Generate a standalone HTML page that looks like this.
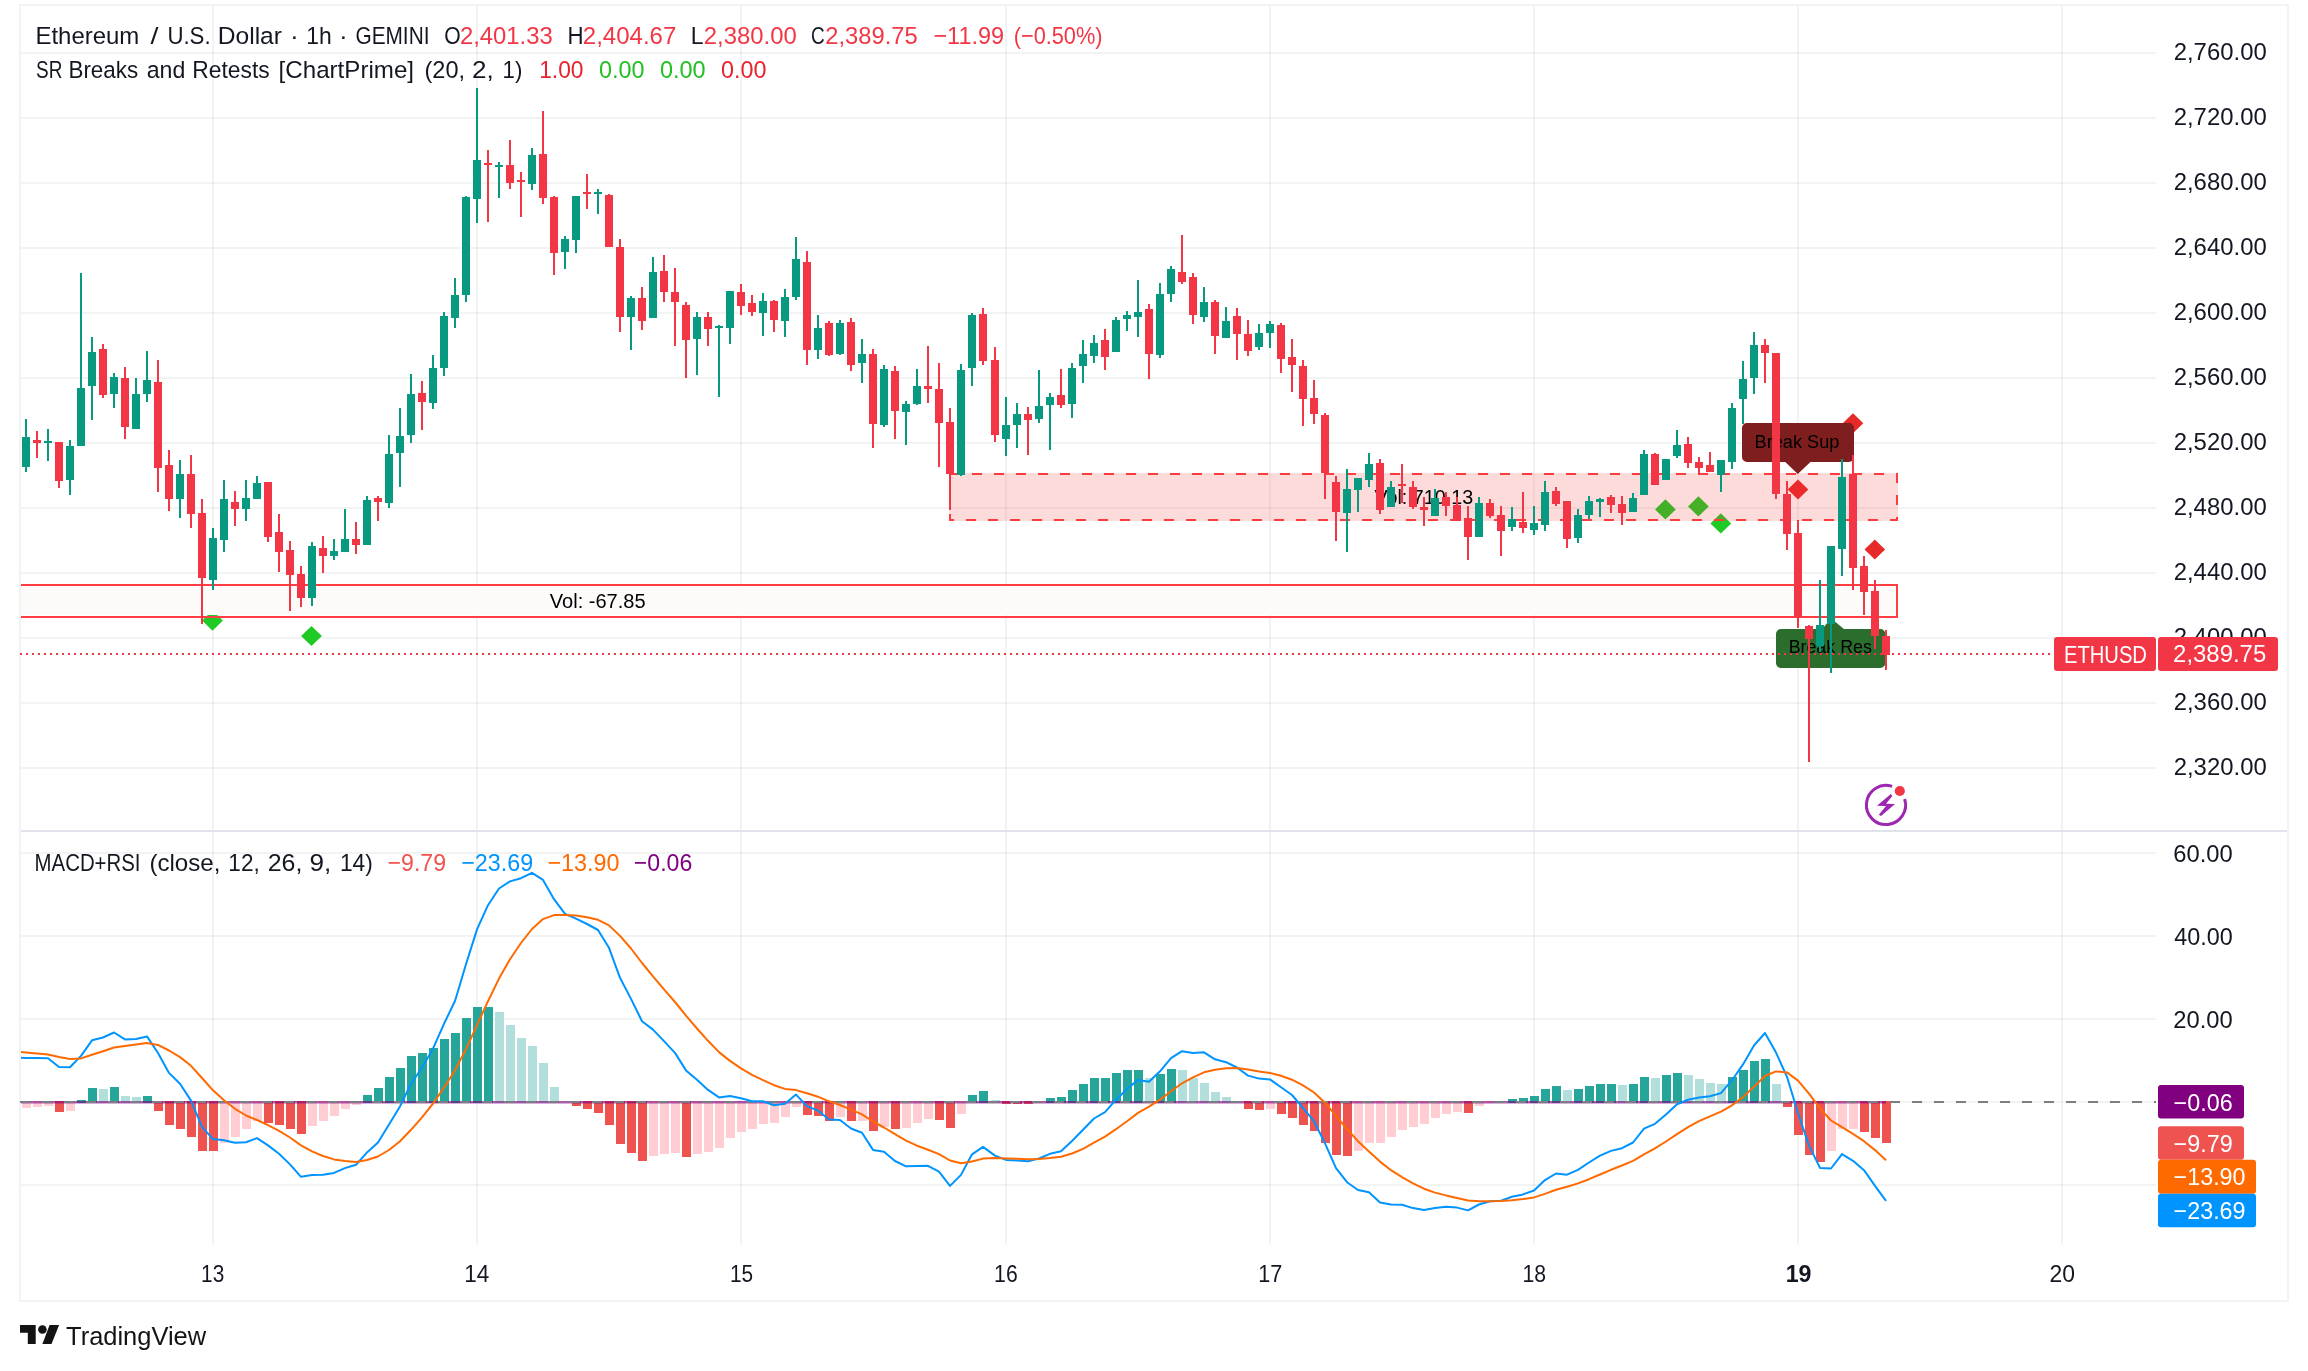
<!DOCTYPE html>
<html><head><meta charset="utf-8"><title>ETHUSD</title>
<style>html,body{margin:0;padding:0;background:#fff;width:2308px;height:1371px;overflow:hidden}text{font-family:"Liberation Sans", sans-serif;white-space:pre}</style>
</head><body>
<svg width="2308" height="1371" viewBox="0 0 2308 1371" style="position:absolute;left:0;top:0;will-change:opacity">
<g shape-rendering="crispEdges">
<rect x="21" y="52" width="2135" height="2" fill="#2a2e39" fill-opacity="0.06"/>
<rect x="21" y="117" width="2135" height="2" fill="#2a2e39" fill-opacity="0.06"/>
<rect x="21" y="182" width="2135" height="2" fill="#2a2e39" fill-opacity="0.06"/>
<rect x="21" y="247" width="2135" height="2" fill="#2a2e39" fill-opacity="0.06"/>
<rect x="21" y="312" width="2135" height="2" fill="#2a2e39" fill-opacity="0.06"/>
<rect x="21" y="377" width="2135" height="2" fill="#2a2e39" fill-opacity="0.06"/>
<rect x="21" y="442" width="2135" height="2" fill="#2a2e39" fill-opacity="0.06"/>
<rect x="21" y="507" width="2135" height="2" fill="#2a2e39" fill-opacity="0.06"/>
<rect x="21" y="572" width="2135" height="2" fill="#2a2e39" fill-opacity="0.06"/>
<rect x="21" y="637" width="2135" height="2" fill="#2a2e39" fill-opacity="0.06"/>
<rect x="21" y="702" width="2135" height="2" fill="#2a2e39" fill-opacity="0.06"/>
<rect x="21" y="767" width="2135" height="2" fill="#2a2e39" fill-opacity="0.06"/>
<rect x="21" y="852" width="2135" height="2" fill="#2a2e39" fill-opacity="0.06"/>
<rect x="21" y="935" width="2135" height="2" fill="#2a2e39" fill-opacity="0.06"/>
<rect x="21" y="1018" width="2135" height="2" fill="#2a2e39" fill-opacity="0.06"/>
<rect x="21" y="1101" width="2135" height="2" fill="#2a2e39" fill-opacity="0.06"/>
<rect x="21" y="1184" width="2135" height="2" fill="#2a2e39" fill-opacity="0.06"/>
<rect x="212" y="6" width="2" height="1239" fill="#2a2e39" fill-opacity="0.06"/>
<rect x="476" y="6" width="2" height="1239" fill="#2a2e39" fill-opacity="0.06"/>
<rect x="740" y="6" width="2" height="1239" fill="#2a2e39" fill-opacity="0.06"/>
<rect x="1005" y="6" width="2" height="1239" fill="#2a2e39" fill-opacity="0.06"/>
<rect x="1269" y="6" width="2" height="1239" fill="#2a2e39" fill-opacity="0.06"/>
<rect x="1533" y="6" width="2" height="1239" fill="#2a2e39" fill-opacity="0.06"/>
<rect x="1797" y="6" width="2" height="1239" fill="#2a2e39" fill-opacity="0.06"/>
<rect x="2061" y="6" width="2" height="1239" fill="#2a2e39" fill-opacity="0.06"/>
<rect x="19" y="4" width="2270" height="2" fill="#f2f3f3"/>
<rect x="19" y="4" width="2" height="1298" fill="#f2f3f3"/>
<rect x="2287" y="4" width="2" height="1298" fill="#f2f3f3"/>
<rect x="19" y="1300" width="2270" height="2" fill="#f2f3f3"/>
<rect x="21" y="830" width="2266" height="2" fill="#e0e3eb"/>
</g>
<path d="M212.5 610.5L222.9 620.6L212.5 630.7L202.1 620.6Z" fill="#20ca26"/>
<path d="M311.5 625.9L321.9 636L311.5 646.1L301.1 636Z" fill="#20ca26"/>
<path d="M1665.4 499.29999999999995L1675.8000000000002 509.4L1665.4 519.5L1655.0 509.4Z" fill="#20ca26"/>
<path d="M1698.4 496.29999999999995L1708.8000000000002 506.4L1698.4 516.5L1688.0 506.4Z" fill="#20ca26"/>
<path d="M1720.8 513.3L1731.2 523.4L1720.8 533.5L1710.3999999999999 523.4Z" fill="#20ca26"/>
<path d="M1853 413.3L1863.3 423.3L1853 433.3L1842.7 423.3Z" fill="#e82929"/>
<path d="M1798 479.5L1808.3 489.5L1798 499.5L1787.7 489.5Z" fill="#e82929"/>
<path d="M1874.8 539.4L1885.1 549.4L1874.8 559.4L1864.5 549.4Z" fill="#e82929"/>
<g shape-rendering="crispEdges">
<rect x="21" y="587" width="1874" height="28" fill="#fdfbfa"/>
<rect x="21" y="584" width="1877" height="2" fill="#ff3d42"/>
<rect x="21" y="616" width="1877" height="2" fill="#ff3d42"/>
<rect x="1896" y="584" width="2" height="34" fill="#ff3d42"/>
<rect x="949" y="473" width="949" height="48" fill="rgba(250,50,50,0.175)"/>
</g>
<rect x="950" y="474" width="947" height="46" fill="none" stroke="#fe3c3e" stroke-width="2" stroke-dasharray="10 12"/>
<path d="M1747 423H1849a5 5 0 0 1 5 5V457a5 5 0 0 1 -5 5H1810.4L1797.8 474L1785.3 462H1747a5 5 0 0 1 -5 -5V428a5 5 0 0 1 5 -5Z" fill="#7e1e1e"/>
<path d="M1781 629H1822.3L1831 618.3L1843.9 629H1880.3a5 5 0 0 1 5 5V663a5 5 0 0 1 -5 5H1781a5 5 0 0 1 -5 -5V634a5 5 0 0 1 5 -5Z" fill="#2b6d2d"/>
<text x="1754.62" y="447.60" font-size="18.6" fill="#000" font-weight="normal" textLength="84.71" lengthAdjust="spacingAndGlyphs">Break Sup</text>
<text x="1788.64" y="653.30" font-size="18.6" fill="#000" font-weight="normal" textLength="83.24" lengthAdjust="spacingAndGlyphs">Break Res</text>
<text x="549.80" y="607.80" font-size="20" fill="#000" font-weight="normal" textLength="95.82" lengthAdjust="spacingAndGlyphs">Vol: -67.85</text>
<text x="1374.40" y="503.50" font-size="20" fill="#000" font-weight="normal" textLength="98.72" lengthAdjust="spacingAndGlyphs">Vol: 710.13</text>
<g shape-rendering="crispEdges">
<rect x="25" y="419" width="2" height="53" fill="#089981"/><rect x="22" y="437" width="8" height="30" fill="#089981"/>
<rect x="36" y="431" width="2" height="27" fill="#f23645"/><rect x="33" y="440" width="8" height="3" fill="#f23645"/>
<rect x="47" y="429" width="2" height="32" fill="#089981"/><rect x="44" y="441" width="8" height="2" fill="#089981"/>
<rect x="58" y="442" width="2" height="46" fill="#f23645"/><rect x="55" y="442" width="8" height="39" fill="#f23645"/>
<rect x="69" y="440" width="2" height="55" fill="#089981"/><rect x="66" y="446" width="8" height="34" fill="#089981"/>
<rect x="80" y="273" width="2" height="173" fill="#089981"/><rect x="77" y="388" width="8" height="58" fill="#089981"/>
<rect x="91" y="337" width="2" height="83" fill="#089981"/><rect x="88" y="352" width="8" height="34" fill="#089981"/>
<rect x="102" y="344" width="2" height="54" fill="#f23645"/><rect x="99" y="349" width="8" height="46" fill="#f23645"/>
<rect x="113" y="373" width="2" height="35" fill="#089981"/><rect x="110" y="377" width="8" height="17" fill="#089981"/>
<rect x="124" y="367" width="2" height="72" fill="#f23645"/><rect x="121" y="378" width="8" height="49" fill="#f23645"/>
<rect x="135" y="378" width="2" height="51" fill="#089981"/><rect x="132" y="394" width="8" height="35" fill="#089981"/>
<rect x="146" y="351" width="2" height="51" fill="#089981"/><rect x="143" y="380" width="8" height="14" fill="#089981"/>
<rect x="157" y="360" width="2" height="132" fill="#f23645"/><rect x="154" y="382" width="8" height="86" fill="#f23645"/>
<rect x="168" y="450" width="2" height="61" fill="#f23645"/><rect x="165" y="465" width="8" height="34" fill="#f23645"/>
<rect x="179" y="460" width="2" height="58" fill="#089981"/><rect x="176" y="474" width="8" height="25" fill="#089981"/>
<rect x="190" y="455" width="2" height="73" fill="#f23645"/><rect x="187" y="474" width="8" height="40" fill="#f23645"/>
<rect x="201" y="499" width="2" height="125" fill="#f23645"/><rect x="198" y="513" width="8" height="65" fill="#f23645"/>
<rect x="212" y="528" width="2" height="62" fill="#089981"/><rect x="209" y="538" width="8" height="42" fill="#089981"/>
<rect x="223" y="480" width="2" height="72" fill="#089981"/><rect x="220" y="499" width="8" height="41" fill="#089981"/>
<rect x="234" y="491" width="2" height="35" fill="#f23645"/><rect x="231" y="502" width="8" height="7" fill="#f23645"/>
<rect x="245" y="480" width="2" height="41" fill="#089981"/><rect x="242" y="498" width="8" height="11" fill="#089981"/>
<rect x="256" y="476" width="2" height="23" fill="#089981"/><rect x="253" y="483" width="8" height="16" fill="#089981"/>
<rect x="267" y="482" width="2" height="60" fill="#f23645"/><rect x="264" y="482" width="8" height="55" fill="#f23645"/>
<rect x="278" y="514" width="2" height="58" fill="#f23645"/><rect x="275" y="532" width="8" height="20" fill="#f23645"/>
<rect x="289" y="541" width="2" height="70" fill="#f23645"/><rect x="286" y="550" width="8" height="25" fill="#f23645"/>
<rect x="300" y="566" width="2" height="41" fill="#f23645"/><rect x="297" y="574" width="8" height="24" fill="#f23645"/>
<rect x="311" y="542" width="2" height="64" fill="#089981"/><rect x="308" y="546" width="8" height="52" fill="#089981"/>
<rect x="322" y="536" width="2" height="37" fill="#f23645"/><rect x="319" y="548" width="8" height="8" fill="#f23645"/>
<rect x="333" y="539" width="2" height="21" fill="#089981"/><rect x="330" y="551" width="8" height="5" fill="#089981"/>
<rect x="344" y="509" width="2" height="43" fill="#089981"/><rect x="341" y="539" width="8" height="13" fill="#089981"/>
<rect x="355" y="522" width="2" height="32" fill="#f23645"/><rect x="352" y="539" width="8" height="6" fill="#f23645"/>
<rect x="366" y="496" width="2" height="49" fill="#089981"/><rect x="363" y="500" width="8" height="45" fill="#089981"/>
<rect x="377" y="496" width="2" height="25" fill="#f23645"/><rect x="374" y="498" width="8" height="4" fill="#f23645"/>
<rect x="388" y="435" width="2" height="73" fill="#089981"/><rect x="385" y="454" width="8" height="49" fill="#089981"/>
<rect x="399" y="408" width="2" height="79" fill="#089981"/><rect x="396" y="436" width="8" height="17" fill="#089981"/>
<rect x="410" y="374" width="2" height="69" fill="#089981"/><rect x="407" y="394" width="8" height="41" fill="#089981"/>
<rect x="421" y="381" width="2" height="49" fill="#f23645"/><rect x="418" y="393" width="8" height="9" fill="#f23645"/>
<rect x="432" y="355" width="2" height="54" fill="#089981"/><rect x="429" y="368" width="8" height="35" fill="#089981"/>
<rect x="443" y="312" width="2" height="64" fill="#089981"/><rect x="440" y="316" width="8" height="52" fill="#089981"/>
<rect x="454" y="278" width="2" height="50" fill="#089981"/><rect x="451" y="295" width="8" height="23" fill="#089981"/>
<rect x="465" y="196" width="2" height="106" fill="#089981"/><rect x="462" y="197" width="8" height="98" fill="#089981"/>
<rect x="476" y="88" width="2" height="135" fill="#089981"/><rect x="473" y="160" width="8" height="39" fill="#089981"/>
<rect x="487" y="150" width="2" height="72" fill="#f23645"/><rect x="484" y="163" width="8" height="2" fill="#f23645"/>
<rect x="498" y="162" width="2" height="36" fill="#089981"/><rect x="495" y="165" width="8" height="2" fill="#089981"/>
<rect x="509" y="140" width="2" height="49" fill="#f23645"/><rect x="506" y="165" width="8" height="18" fill="#f23645"/>
<rect x="520" y="172" width="2" height="45" fill="#f23645"/><rect x="517" y="180" width="8" height="2" fill="#f23645"/>
<rect x="531" y="148" width="2" height="42" fill="#089981"/><rect x="528" y="155" width="8" height="29" fill="#089981"/>
<rect x="542" y="111" width="2" height="93" fill="#f23645"/><rect x="539" y="154" width="8" height="44" fill="#f23645"/>
<rect x="553" y="196" width="2" height="79" fill="#f23645"/><rect x="550" y="197" width="8" height="56" fill="#f23645"/>
<rect x="564" y="236" width="2" height="33" fill="#089981"/><rect x="561" y="239" width="8" height="13" fill="#089981"/>
<rect x="575" y="196" width="2" height="57" fill="#089981"/><rect x="572" y="196" width="8" height="44" fill="#089981"/>
<rect x="586" y="174" width="2" height="35" fill="#f23645"/><rect x="583" y="192" width="8" height="2" fill="#f23645"/>
<rect x="597" y="189" width="2" height="25" fill="#089981"/><rect x="594" y="192" width="8" height="2" fill="#089981"/>
<rect x="608" y="194" width="2" height="53" fill="#f23645"/><rect x="605" y="195" width="8" height="52" fill="#f23645"/>
<rect x="619" y="239" width="2" height="93" fill="#f23645"/><rect x="616" y="247" width="8" height="70" fill="#f23645"/>
<rect x="630" y="296" width="2" height="54" fill="#089981"/><rect x="627" y="298" width="8" height="19" fill="#089981"/>
<rect x="641" y="287" width="2" height="43" fill="#f23645"/><rect x="638" y="298" width="8" height="23" fill="#f23645"/>
<rect x="652" y="257" width="2" height="61" fill="#089981"/><rect x="649" y="272" width="8" height="46" fill="#089981"/>
<rect x="663" y="255" width="2" height="47" fill="#f23645"/><rect x="660" y="271" width="8" height="21" fill="#f23645"/>
<rect x="674" y="268" width="2" height="78" fill="#f23645"/><rect x="671" y="292" width="8" height="10" fill="#f23645"/>
<rect x="685" y="302" width="2" height="76" fill="#f23645"/><rect x="682" y="305" width="8" height="35" fill="#f23645"/>
<rect x="696" y="312" width="2" height="63" fill="#089981"/><rect x="693" y="317" width="8" height="22" fill="#089981"/>
<rect x="707" y="312" width="2" height="34" fill="#f23645"/><rect x="704" y="317" width="8" height="12" fill="#f23645"/>
<rect x="718" y="325" width="2" height="72" fill="#089981"/><rect x="715" y="326" width="8" height="2" fill="#089981"/>
<rect x="729" y="291" width="2" height="53" fill="#089981"/><rect x="726" y="291" width="8" height="37" fill="#089981"/>
<rect x="740" y="284" width="2" height="31" fill="#f23645"/><rect x="737" y="292" width="8" height="14" fill="#f23645"/>
<rect x="751" y="295" width="2" height="21" fill="#f23645"/><rect x="748" y="303" width="8" height="9" fill="#f23645"/>
<rect x="762" y="293" width="2" height="43" fill="#089981"/><rect x="759" y="301" width="8" height="12" fill="#089981"/>
<rect x="773" y="300" width="2" height="32" fill="#f23645"/><rect x="770" y="301" width="8" height="19" fill="#f23645"/>
<rect x="784" y="289" width="2" height="48" fill="#089981"/><rect x="781" y="297" width="8" height="24" fill="#089981"/>
<rect x="795" y="237" width="2" height="63" fill="#089981"/><rect x="792" y="259" width="8" height="38" fill="#089981"/>
<rect x="806" y="251" width="2" height="114" fill="#f23645"/><rect x="803" y="262" width="8" height="88" fill="#f23645"/>
<rect x="817" y="315" width="2" height="44" fill="#089981"/><rect x="814" y="328" width="8" height="22" fill="#089981"/>
<rect x="828" y="321" width="2" height="35" fill="#f23645"/><rect x="825" y="323" width="8" height="32" fill="#f23645"/>
<rect x="839" y="320" width="2" height="35" fill="#089981"/><rect x="836" y="323" width="8" height="31" fill="#089981"/>
<rect x="850" y="318" width="2" height="53" fill="#f23645"/><rect x="847" y="322" width="8" height="43" fill="#f23645"/>
<rect x="861" y="339" width="2" height="44" fill="#089981"/><rect x="858" y="354" width="8" height="9" fill="#089981"/>
<rect x="872" y="349" width="2" height="99" fill="#f23645"/><rect x="869" y="354" width="8" height="70" fill="#f23645"/>
<rect x="883" y="365" width="2" height="62" fill="#089981"/><rect x="880" y="369" width="8" height="56" fill="#089981"/>
<rect x="894" y="366" width="2" height="73" fill="#f23645"/><rect x="891" y="371" width="8" height="40" fill="#f23645"/>
<rect x="905" y="401" width="2" height="44" fill="#089981"/><rect x="902" y="404" width="8" height="8" fill="#089981"/>
<rect x="916" y="369" width="2" height="36" fill="#089981"/><rect x="913" y="386" width="8" height="18" fill="#089981"/>
<rect x="927" y="346" width="2" height="57" fill="#f23645"/><rect x="924" y="386" width="8" height="3" fill="#f23645"/>
<rect x="938" y="363" width="2" height="104" fill="#f23645"/><rect x="935" y="389" width="8" height="34" fill="#f23645"/>
<rect x="949" y="408" width="2" height="102" fill="#f23645"/><rect x="946" y="422" width="8" height="52" fill="#f23645"/>
<rect x="960" y="364" width="2" height="112" fill="#089981"/><rect x="957" y="370" width="8" height="105" fill="#089981"/>
<rect x="971" y="313" width="2" height="73" fill="#089981"/><rect x="968" y="315" width="8" height="53" fill="#089981"/>
<rect x="982" y="308" width="2" height="57" fill="#f23645"/><rect x="979" y="314" width="8" height="47" fill="#f23645"/>
<rect x="994" y="347" width="2" height="95" fill="#f23645"/><rect x="991" y="360" width="8" height="75" fill="#f23645"/>
<rect x="1005" y="397" width="2" height="59" fill="#089981"/><rect x="1002" y="425" width="8" height="14" fill="#089981"/>
<rect x="1016" y="403" width="2" height="45" fill="#089981"/><rect x="1013" y="414" width="8" height="11" fill="#089981"/>
<rect x="1027" y="407" width="2" height="48" fill="#f23645"/><rect x="1024" y="414" width="8" height="6" fill="#f23645"/>
<rect x="1038" y="370" width="2" height="53" fill="#089981"/><rect x="1035" y="406" width="8" height="13" fill="#089981"/>
<rect x="1049" y="393" width="2" height="57" fill="#089981"/><rect x="1046" y="397" width="8" height="8" fill="#089981"/>
<rect x="1060" y="369" width="2" height="39" fill="#f23645"/><rect x="1057" y="395" width="8" height="10" fill="#f23645"/>
<rect x="1071" y="363" width="2" height="55" fill="#089981"/><rect x="1068" y="368" width="8" height="36" fill="#089981"/>
<rect x="1082" y="340" width="2" height="43" fill="#089981"/><rect x="1079" y="354" width="8" height="12" fill="#089981"/>
<rect x="1093" y="335" width="2" height="28" fill="#089981"/><rect x="1090" y="343" width="8" height="13" fill="#089981"/>
<rect x="1104" y="329" width="2" height="41" fill="#f23645"/><rect x="1101" y="340" width="8" height="17" fill="#f23645"/>
<rect x="1115" y="317" width="2" height="35" fill="#089981"/><rect x="1112" y="320" width="8" height="32" fill="#089981"/>
<rect x="1126" y="311" width="2" height="20" fill="#089981"/><rect x="1123" y="315" width="8" height="4" fill="#089981"/>
<rect x="1137" y="280" width="2" height="57" fill="#089981"/><rect x="1134" y="312" width="8" height="5" fill="#089981"/>
<rect x="1148" y="304" width="2" height="75" fill="#f23645"/><rect x="1145" y="309" width="8" height="45" fill="#f23645"/>
<rect x="1159" y="283" width="2" height="75" fill="#089981"/><rect x="1156" y="294" width="8" height="61" fill="#089981"/>
<rect x="1170" y="266" width="2" height="36" fill="#089981"/><rect x="1167" y="269" width="8" height="25" fill="#089981"/>
<rect x="1181" y="235" width="2" height="49" fill="#f23645"/><rect x="1178" y="272" width="8" height="10" fill="#f23645"/>
<rect x="1192" y="273" width="2" height="51" fill="#f23645"/><rect x="1189" y="277" width="8" height="38" fill="#f23645"/>
<rect x="1203" y="287" width="2" height="35" fill="#089981"/><rect x="1200" y="302" width="8" height="15" fill="#089981"/>
<rect x="1214" y="300" width="2" height="54" fill="#f23645"/><rect x="1211" y="302" width="8" height="34" fill="#f23645"/>
<rect x="1225" y="307" width="2" height="31" fill="#089981"/><rect x="1222" y="321" width="8" height="17" fill="#089981"/>
<rect x="1236" y="308" width="2" height="52" fill="#f23645"/><rect x="1233" y="316" width="8" height="18" fill="#f23645"/>
<rect x="1247" y="320" width="2" height="36" fill="#f23645"/><rect x="1244" y="334" width="8" height="17" fill="#f23645"/>
<rect x="1258" y="324" width="2" height="26" fill="#089981"/><rect x="1255" y="333" width="8" height="14" fill="#089981"/>
<rect x="1269" y="321" width="2" height="27" fill="#089981"/><rect x="1266" y="324" width="8" height="9" fill="#089981"/>
<rect x="1280" y="323" width="2" height="50" fill="#f23645"/><rect x="1277" y="325" width="8" height="34" fill="#f23645"/>
<rect x="1291" y="339" width="2" height="53" fill="#f23645"/><rect x="1288" y="357" width="8" height="8" fill="#f23645"/>
<rect x="1302" y="360" width="2" height="66" fill="#f23645"/><rect x="1299" y="366" width="8" height="33" fill="#f23645"/>
<rect x="1313" y="380" width="2" height="44" fill="#f23645"/><rect x="1310" y="398" width="8" height="16" fill="#f23645"/>
<rect x="1324" y="413" width="2" height="86" fill="#f23645"/><rect x="1321" y="415" width="8" height="58" fill="#f23645"/>
<rect x="1335" y="476" width="2" height="65" fill="#f23645"/><rect x="1332" y="482" width="8" height="30" fill="#f23645"/>
<rect x="1346" y="469" width="2" height="83" fill="#089981"/><rect x="1343" y="489" width="8" height="24" fill="#089981"/>
<rect x="1357" y="478" width="2" height="34" fill="#089981"/><rect x="1354" y="478" width="8" height="12" fill="#089981"/>
<rect x="1368" y="453" width="2" height="34" fill="#089981"/><rect x="1365" y="464" width="8" height="16" fill="#089981"/>
<rect x="1379" y="459" width="2" height="55" fill="#f23645"/><rect x="1376" y="463" width="8" height="47" fill="#f23645"/>
<rect x="1390" y="481" width="2" height="26" fill="#089981"/><rect x="1387" y="487" width="8" height="20" fill="#089981"/>
<rect x="1401" y="464" width="2" height="39" fill="#f23645"/><rect x="1398" y="484" width="8" height="2" fill="#f23645"/>
<rect x="1412" y="481" width="2" height="28" fill="#f23645"/><rect x="1409" y="487" width="8" height="20" fill="#f23645"/>
<rect x="1423" y="497" width="2" height="29" fill="#f23645"/><rect x="1420" y="507" width="8" height="3" fill="#f23645"/>
<rect x="1434" y="489" width="2" height="27" fill="#089981"/><rect x="1431" y="498" width="8" height="18" fill="#089981"/>
<rect x="1445" y="492" width="2" height="24" fill="#f23645"/><rect x="1442" y="497" width="8" height="9" fill="#f23645"/>
<rect x="1456" y="497" width="2" height="24" fill="#f23645"/><rect x="1453" y="505" width="8" height="16" fill="#f23645"/>
<rect x="1467" y="506" width="2" height="54" fill="#f23645"/><rect x="1464" y="518" width="8" height="19" fill="#f23645"/>
<rect x="1478" y="497" width="2" height="40" fill="#089981"/><rect x="1475" y="503" width="8" height="34" fill="#089981"/>
<rect x="1489" y="499" width="2" height="19" fill="#f23645"/><rect x="1486" y="503" width="8" height="13" fill="#f23645"/>
<rect x="1500" y="506" width="2" height="50" fill="#f23645"/><rect x="1497" y="515" width="8" height="16" fill="#f23645"/>
<rect x="1511" y="507" width="2" height="24" fill="#089981"/><rect x="1508" y="519" width="8" height="8" fill="#089981"/>
<rect x="1522" y="492" width="2" height="41" fill="#f23645"/><rect x="1519" y="522" width="8" height="6" fill="#f23645"/>
<rect x="1533" y="506" width="2" height="29" fill="#089981"/><rect x="1530" y="523" width="8" height="7" fill="#089981"/>
<rect x="1544" y="481" width="2" height="50" fill="#089981"/><rect x="1541" y="492" width="8" height="33" fill="#089981"/>
<rect x="1555" y="487" width="2" height="19" fill="#f23645"/><rect x="1552" y="491" width="8" height="13" fill="#f23645"/>
<rect x="1566" y="501" width="2" height="47" fill="#f23645"/><rect x="1563" y="501" width="8" height="38" fill="#f23645"/>
<rect x="1577" y="509" width="2" height="34" fill="#089981"/><rect x="1574" y="515" width="8" height="23" fill="#089981"/>
<rect x="1588" y="496" width="2" height="23" fill="#089981"/><rect x="1585" y="501" width="8" height="14" fill="#089981"/>
<rect x="1599" y="498" width="2" height="19" fill="#089981"/><rect x="1596" y="499" width="8" height="3" fill="#089981"/>
<rect x="1610" y="495" width="2" height="18" fill="#f23645"/><rect x="1607" y="497" width="8" height="8" fill="#f23645"/>
<rect x="1621" y="496" width="2" height="29" fill="#f23645"/><rect x="1618" y="504" width="8" height="9" fill="#f23645"/>
<rect x="1632" y="493" width="2" height="19" fill="#089981"/><rect x="1629" y="498" width="8" height="14" fill="#089981"/>
<rect x="1643" y="450" width="2" height="45" fill="#089981"/><rect x="1640" y="454" width="8" height="41" fill="#089981"/>
<rect x="1654" y="453" width="2" height="32" fill="#f23645"/><rect x="1651" y="454" width="8" height="31" fill="#f23645"/>
<rect x="1665" y="459" width="2" height="21" fill="#089981"/><rect x="1662" y="459" width="8" height="21" fill="#089981"/>
<rect x="1676" y="430" width="2" height="28" fill="#089981"/><rect x="1673" y="445" width="8" height="11" fill="#089981"/>
<rect x="1687" y="437" width="2" height="31" fill="#f23645"/><rect x="1684" y="444" width="8" height="19" fill="#f23645"/>
<rect x="1698" y="457" width="2" height="17" fill="#f23645"/><rect x="1695" y="462" width="8" height="6" fill="#f23645"/>
<rect x="1709" y="452" width="2" height="20" fill="#f23645"/><rect x="1706" y="465" width="8" height="7" fill="#f23645"/>
<rect x="1720" y="460" width="2" height="32" fill="#089981"/><rect x="1717" y="460" width="8" height="15" fill="#089981"/>
<rect x="1731" y="403" width="2" height="66" fill="#089981"/><rect x="1728" y="408" width="8" height="54" fill="#089981"/>
<rect x="1742" y="361" width="2" height="63" fill="#089981"/><rect x="1739" y="379" width="8" height="20" fill="#089981"/>
<rect x="1753" y="332" width="2" height="62" fill="#089981"/><rect x="1750" y="345" width="8" height="33" fill="#089981"/>
<rect x="1764" y="339" width="2" height="44" fill="#f23645"/><rect x="1761" y="345" width="8" height="8" fill="#f23645"/>
<rect x="1775" y="353" width="2" height="146" fill="#f23645"/><rect x="1772" y="353" width="8" height="141" fill="#f23645"/>
<rect x="1786" y="481" width="2" height="69" fill="#f23645"/><rect x="1783" y="494" width="8" height="40" fill="#f23645"/>
<rect x="1797" y="520" width="2" height="108" fill="#f23645"/><rect x="1794" y="533" width="8" height="84" fill="#f23645"/>
<rect x="1808" y="625" width="2" height="137" fill="#f23645"/><rect x="1805" y="626" width="8" height="13" fill="#f23645"/>
<rect x="1819" y="580" width="2" height="72" fill="#089981"/><rect x="1816" y="625" width="8" height="21" fill="#089981"/>
<rect x="1830" y="546" width="2" height="127" fill="#089981"/><rect x="1827" y="546" width="8" height="78" fill="#089981"/>
<rect x="1841" y="459" width="2" height="117" fill="#089981"/><rect x="1838" y="477" width="8" height="72" fill="#089981"/>
<rect x="1852" y="455" width="2" height="135" fill="#f23645"/><rect x="1849" y="474" width="8" height="94" fill="#f23645"/>
<rect x="1863" y="556" width="2" height="59" fill="#f23645"/><rect x="1860" y="566" width="8" height="26" fill="#f23645"/>
<rect x="1874" y="580" width="2" height="69" fill="#f23645"/><rect x="1871" y="591" width="8" height="45" fill="#f23645"/>
<rect x="1885" y="630" width="2" height="40" fill="#f23645"/><rect x="1882" y="636" width="8" height="19" fill="#f23645"/>
</g>
<line x1="20" y1="654" x2="2050" y2="654" stroke="#f23645" stroke-width="2" stroke-dasharray="2 4" shape-rendering="crispEdges"/>
<g shape-rendering="crispEdges">
<rect x="22" y="1101" width="9" height="7" fill="#ffcdd2"/>
<rect x="33" y="1101" width="9" height="6" fill="#ffcdd2"/>
<rect x="44" y="1101" width="9" height="5" fill="#ffcdd2"/>
<rect x="55" y="1101" width="9" height="11" fill="#ef5350"/>
<rect x="66" y="1101" width="9" height="10" fill="#ffcdd2"/>
<rect x="77" y="1100" width="9" height="3" fill="#26a69a"/>
<rect x="88" y="1088" width="9" height="15" fill="#26a69a"/>
<rect x="99" y="1089" width="9" height="14" fill="#b2dfdb"/>
<rect x="110" y="1087" width="9" height="16" fill="#26a69a"/>
<rect x="121" y="1096" width="9" height="7" fill="#b2dfdb"/>
<rect x="132" y="1097" width="9" height="6" fill="#b2dfdb"/>
<rect x="143" y="1096" width="9" height="7" fill="#26a69a"/>
<rect x="154" y="1101" width="9" height="10" fill="#ef5350"/>
<rect x="165" y="1101" width="9" height="24" fill="#ef5350"/>
<rect x="176" y="1101" width="9" height="28" fill="#ef5350"/>
<rect x="187" y="1101" width="9" height="36" fill="#ef5350"/>
<rect x="198" y="1101" width="9" height="50" fill="#ef5350"/>
<rect x="209" y="1101" width="9" height="50" fill="#ef5350"/>
<rect x="220" y="1101" width="9" height="42" fill="#ffcdd2"/>
<rect x="231" y="1101" width="9" height="36" fill="#ffcdd2"/>
<rect x="242" y="1101" width="9" height="28" fill="#ffcdd2"/>
<rect x="253" y="1101" width="9" height="20" fill="#ffcdd2"/>
<rect x="264" y="1101" width="9" height="22" fill="#ef5350"/>
<rect x="275" y="1101" width="9" height="24" fill="#ef5350"/>
<rect x="286" y="1101" width="9" height="28" fill="#ef5350"/>
<rect x="297" y="1101" width="9" height="33" fill="#ef5350"/>
<rect x="308" y="1101" width="9" height="25" fill="#ffcdd2"/>
<rect x="319" y="1101" width="9" height="20" fill="#ffcdd2"/>
<rect x="330" y="1101" width="9" height="15" fill="#ffcdd2"/>
<rect x="341" y="1101" width="9" height="8" fill="#ffcdd2"/>
<rect x="352" y="1101" width="9" height="4" fill="#ffcdd2"/>
<rect x="363" y="1095" width="9" height="8" fill="#26a69a"/>
<rect x="374" y="1088" width="9" height="15" fill="#26a69a"/>
<rect x="385" y="1077" width="9" height="26" fill="#26a69a"/>
<rect x="396" y="1068" width="9" height="35" fill="#26a69a"/>
<rect x="407" y="1056" width="9" height="47" fill="#26a69a"/>
<rect x="418" y="1053" width="9" height="50" fill="#26a69a"/>
<rect x="429" y="1048" width="9" height="55" fill="#26a69a"/>
<rect x="440" y="1039" width="9" height="64" fill="#26a69a"/>
<rect x="451" y="1033" width="9" height="70" fill="#26a69a"/>
<rect x="462" y="1018" width="9" height="85" fill="#26a69a"/>
<rect x="473" y="1007" width="9" height="96" fill="#26a69a"/>
<rect x="484" y="1007" width="9" height="96" fill="#26a69a"/>
<rect x="495" y="1012" width="9" height="91" fill="#b2dfdb"/>
<rect x="506" y="1025" width="9" height="78" fill="#b2dfdb"/>
<rect x="517" y="1038" width="9" height="65" fill="#b2dfdb"/>
<rect x="528" y="1046" width="9" height="57" fill="#b2dfdb"/>
<rect x="539" y="1063" width="9" height="40" fill="#b2dfdb"/>
<rect x="550" y="1087" width="9" height="16" fill="#b2dfdb"/>
<rect x="572" y="1101" width="9" height="5" fill="#ef5350"/>
<rect x="583" y="1101" width="9" height="8" fill="#ef5350"/>
<rect x="594" y="1101" width="9" height="12" fill="#ef5350"/>
<rect x="605" y="1101" width="9" height="24" fill="#ef5350"/>
<rect x="616" y="1101" width="9" height="43" fill="#ef5350"/>
<rect x="627" y="1101" width="9" height="52" fill="#ef5350"/>
<rect x="638" y="1101" width="9" height="60" fill="#ef5350"/>
<rect x="649" y="1101" width="9" height="55" fill="#ffcdd2"/>
<rect x="660" y="1101" width="9" height="53" fill="#ffcdd2"/>
<rect x="671" y="1101" width="9" height="52" fill="#ffcdd2"/>
<rect x="682" y="1101" width="9" height="56" fill="#ef5350"/>
<rect x="693" y="1101" width="9" height="53" fill="#ffcdd2"/>
<rect x="704" y="1101" width="9" height="51" fill="#ffcdd2"/>
<rect x="715" y="1101" width="9" height="47" fill="#ffcdd2"/>
<rect x="726" y="1101" width="9" height="37" fill="#ffcdd2"/>
<rect x="737" y="1101" width="9" height="31" fill="#ffcdd2"/>
<rect x="748" y="1101" width="9" height="28" fill="#ffcdd2"/>
<rect x="759" y="1101" width="9" height="23" fill="#ffcdd2"/>
<rect x="770" y="1101" width="9" height="22" fill="#ffcdd2"/>
<rect x="781" y="1101" width="9" height="16" fill="#ffcdd2"/>
<rect x="792" y="1101" width="9" height="6" fill="#ffcdd2"/>
<rect x="803" y="1101" width="9" height="14" fill="#ef5350"/>
<rect x="814" y="1101" width="9" height="15" fill="#ef5350"/>
<rect x="825" y="1101" width="9" height="20" fill="#ef5350"/>
<rect x="836" y="1101" width="9" height="16" fill="#ffcdd2"/>
<rect x="847" y="1101" width="9" height="20" fill="#ef5350"/>
<rect x="858" y="1101" width="9" height="20" fill="#ffcdd2"/>
<rect x="869" y="1101" width="9" height="30" fill="#ef5350"/>
<rect x="880" y="1101" width="9" height="26" fill="#ffcdd2"/>
<rect x="891" y="1101" width="9" height="28" fill="#ef5350"/>
<rect x="902" y="1101" width="9" height="27" fill="#ffcdd2"/>
<rect x="913" y="1101" width="9" height="22" fill="#ffcdd2"/>
<rect x="924" y="1101" width="9" height="18" fill="#ffcdd2"/>
<rect x="935" y="1101" width="9" height="19" fill="#ef5350"/>
<rect x="946" y="1101" width="9" height="27" fill="#ef5350"/>
<rect x="957" y="1101" width="9" height="13" fill="#ffcdd2"/>
<rect x="968" y="1095" width="9" height="8" fill="#26a69a"/>
<rect x="979" y="1091" width="9" height="12" fill="#26a69a"/>
<rect x="991" y="1100" width="9" height="3" fill="#b2dfdb"/>
<rect x="1002" y="1101" width="9" height="3" fill="#ef5350"/>
<rect x="1013" y="1101" width="9" height="3" fill="#ef5350"/>
<rect x="1024" y="1101" width="9" height="3" fill="#ef5350"/>
<rect x="1046" y="1098" width="9" height="5" fill="#26a69a"/>
<rect x="1057" y="1097" width="9" height="6" fill="#26a69a"/>
<rect x="1068" y="1090" width="9" height="13" fill="#26a69a"/>
<rect x="1079" y="1084" width="9" height="19" fill="#26a69a"/>
<rect x="1090" y="1078" width="9" height="25" fill="#26a69a"/>
<rect x="1101" y="1078" width="9" height="25" fill="#26a69a"/>
<rect x="1112" y="1073" width="9" height="30" fill="#26a69a"/>
<rect x="1123" y="1070" width="9" height="33" fill="#26a69a"/>
<rect x="1134" y="1070" width="9" height="33" fill="#26a69a"/>
<rect x="1145" y="1078" width="9" height="25" fill="#b2dfdb"/>
<rect x="1156" y="1074" width="9" height="29" fill="#26a69a"/>
<rect x="1167" y="1069" width="9" height="34" fill="#26a69a"/>
<rect x="1178" y="1070" width="9" height="33" fill="#b2dfdb"/>
<rect x="1189" y="1078" width="9" height="25" fill="#b2dfdb"/>
<rect x="1200" y="1083" width="9" height="20" fill="#b2dfdb"/>
<rect x="1211" y="1092" width="9" height="11" fill="#b2dfdb"/>
<rect x="1222" y="1097" width="9" height="6" fill="#b2dfdb"/>
<rect x="1244" y="1101" width="9" height="8" fill="#ef5350"/>
<rect x="1255" y="1101" width="9" height="9" fill="#ef5350"/>
<rect x="1266" y="1101" width="9" height="8" fill="#ffcdd2"/>
<rect x="1277" y="1101" width="9" height="13" fill="#ef5350"/>
<rect x="1288" y="1101" width="9" height="17" fill="#ef5350"/>
<rect x="1299" y="1101" width="9" height="24" fill="#ef5350"/>
<rect x="1310" y="1101" width="9" height="30" fill="#ef5350"/>
<rect x="1321" y="1101" width="9" height="42" fill="#ef5350"/>
<rect x="1332" y="1101" width="9" height="54" fill="#ef5350"/>
<rect x="1343" y="1101" width="9" height="55" fill="#ef5350"/>
<rect x="1354" y="1101" width="9" height="50" fill="#ffcdd2"/>
<rect x="1365" y="1101" width="9" height="42" fill="#ffcdd2"/>
<rect x="1376" y="1101" width="9" height="42" fill="#ffcdd2"/>
<rect x="1387" y="1101" width="9" height="36" fill="#ffcdd2"/>
<rect x="1398" y="1101" width="9" height="29" fill="#ffcdd2"/>
<rect x="1409" y="1101" width="9" height="26" fill="#ffcdd2"/>
<rect x="1420" y="1101" width="9" height="23" fill="#ffcdd2"/>
<rect x="1431" y="1101" width="9" height="17" fill="#ffcdd2"/>
<rect x="1442" y="1101" width="9" height="13" fill="#ffcdd2"/>
<rect x="1453" y="1101" width="9" height="11" fill="#ffcdd2"/>
<rect x="1464" y="1101" width="9" height="12" fill="#ef5350"/>
<rect x="1475" y="1101" width="9" height="5" fill="#ffcdd2"/>
<rect x="1486" y="1101" width="9" height="2" fill="#ffcdd2"/>
<rect x="1508" y="1099" width="9" height="4" fill="#26a69a"/>
<rect x="1519" y="1098" width="9" height="5" fill="#26a69a"/>
<rect x="1530" y="1096" width="9" height="7" fill="#26a69a"/>
<rect x="1541" y="1089" width="9" height="14" fill="#26a69a"/>
<rect x="1552" y="1086" width="9" height="17" fill="#26a69a"/>
<rect x="1563" y="1090" width="9" height="13" fill="#b2dfdb"/>
<rect x="1574" y="1089" width="9" height="14" fill="#26a69a"/>
<rect x="1585" y="1086" width="9" height="17" fill="#26a69a"/>
<rect x="1596" y="1084" width="9" height="19" fill="#26a69a"/>
<rect x="1607" y="1084" width="9" height="19" fill="#26a69a"/>
<rect x="1618" y="1085" width="9" height="18" fill="#b2dfdb"/>
<rect x="1629" y="1084" width="9" height="19" fill="#26a69a"/>
<rect x="1640" y="1077" width="9" height="26" fill="#26a69a"/>
<rect x="1651" y="1078" width="9" height="25" fill="#b2dfdb"/>
<rect x="1662" y="1075" width="9" height="28" fill="#26a69a"/>
<rect x="1673" y="1073" width="9" height="30" fill="#26a69a"/>
<rect x="1684" y="1075" width="9" height="28" fill="#b2dfdb"/>
<rect x="1695" y="1079" width="9" height="24" fill="#b2dfdb"/>
<rect x="1706" y="1083" width="9" height="20" fill="#b2dfdb"/>
<rect x="1717" y="1084" width="9" height="19" fill="#b2dfdb"/>
<rect x="1728" y="1077" width="9" height="26" fill="#26a69a"/>
<rect x="1739" y="1070" width="9" height="33" fill="#26a69a"/>
<rect x="1750" y="1061" width="9" height="42" fill="#26a69a"/>
<rect x="1761" y="1059" width="9" height="44" fill="#26a69a"/>
<rect x="1772" y="1084" width="9" height="19" fill="#b2dfdb"/>
<rect x="1783" y="1101" width="9" height="6" fill="#ef5350"/>
<rect x="1794" y="1101" width="9" height="34" fill="#ef5350"/>
<rect x="1805" y="1101" width="9" height="54" fill="#ef5350"/>
<rect x="1816" y="1101" width="9" height="61" fill="#ef5350"/>
<rect x="1827" y="1101" width="9" height="50" fill="#ffcdd2"/>
<rect x="1838" y="1101" width="9" height="28" fill="#ffcdd2"/>
<rect x="1849" y="1101" width="9" height="28" fill="#ffcdd2"/>
<rect x="1860" y="1101" width="9" height="31" fill="#ef5350"/>
<rect x="1871" y="1101" width="9" height="37" fill="#ef5350"/>
<rect x="1882" y="1101" width="9" height="42" fill="#ef5350"/>
</g>
<line x1="21" y1="1102.3" x2="1886" y2="1102.3" stroke="#800080" stroke-opacity="0.62" stroke-width="2.6"/>
<line x1="20" y1="1102" x2="2156" y2="1102" stroke="#7c7e86" stroke-width="2" stroke-dasharray="10 12" stroke-dashoffset="0" shape-rendering="crispEdges"/>
<clipPath id="cp"><rect x="21" y="832" width="2135" height="412"/></clipPath>
<polyline points="20.5,1057.8 26,1057.9 37,1058.0 48,1058.2 59,1067.0 70,1067.2 81,1055.9 92,1040.3 103,1037.5 114,1032.5 125,1039.4 136,1038.9 147,1036.4 158,1053.0 169,1072.9 180,1083.8 191,1100.6 202,1126.9 213,1139.1 224,1140.3 235,1142.8 246,1142.2 257,1138.1 268,1145.4 279,1153.8 290,1164.4 301,1176.8 312,1175.0 323,1174.8 334,1172.9 345,1168.1 356,1164.8 367,1152.4 378,1142.4 389,1124.4 400,1106.4 411,1083.7 422,1067.7 433,1048.7 444,1023.8 455,1001.0 466,964.2 477,929.4 488,905.2 499,888.5 510,881.4 521,878.2 532,872.8 543,879.9 554,899.2 565,913.8 576,918.7 587,924.0 598,930.0 609,947.8 620,977.8 631,998.9 642,1021.2 653,1029.6 664,1041.1 675,1052.9 686,1070.4 697,1079.8 708,1089.9 719,1097.4 730,1096.1 741,1098.3 752,1101.2 763,1101.3 774,1105.3 785,1103.7 796,1094.6 807,1106.1 818,1110.6 829,1119.6 840,1120.0 851,1128.5 862,1132.8 873,1149.9 884,1151.7 895,1161.0 906,1166.3 917,1166.0 928,1165.8 939,1171.7 950,1185.9 961,1174.9 972,1154.3 983,1146.9 995,1155.6 1006,1159.9 1017,1160.4 1028,1161.2 1039,1158.5 1050,1153.8 1061,1151.2 1072,1141.0 1083,1129.8 1094,1118.5 1105,1112.2 1116,1099.7 1127,1088.9 1138,1080.0 1149,1081.8 1160,1071.3 1171,1058.2 1182,1051.2 1193,1053.0 1204,1052.3 1215,1059.3 1226,1062.2 1237,1067.5 1248,1075.6 1259,1078.6 1270,1079.4 1281,1087.3 1292,1095.0 1303,1108.0 1314,1121.2 1325,1143.3 1336,1168.1 1347,1182.2 1358,1190.0 1369,1192.3 1380,1202.4 1391,1204.6 1402,1204.8 1413,1208.1 1424,1210.1 1435,1208.1 1446,1206.8 1457,1207.6 1468,1210.4 1479,1204.5 1490,1201.3 1501,1200.7 1512,1196.8 1523,1194.4 1534,1190.5 1545,1180.1 1556,1173.5 1567,1174.7 1578,1169.9 1589,1162.5 1600,1155.6 1611,1150.9 1622,1148.2 1633,1142.5 1644,1128.7 1655,1123.8 1666,1114.5 1677,1104.2 1688,1099.8 1699,1097.4 1710,1096.3 1721,1093.1 1732,1080.2 1743,1064.4 1754,1045.5 1765,1033.0 1776,1052.6 1787,1076.8 1798,1113.0 1809,1145.6 1820,1167.9 1831,1168.5 1842,1154.1 1853,1160.8 1864,1170.2 1875,1185.8 1886,1200.9" fill="none" stroke="#0094ff" stroke-width="2" stroke-linejoin="round" clip-path="url(#cp)"/>
<polyline points="20.5,1051.9 26,1052.4 37,1053.5 48,1054.5 59,1057.0 70,1059.0 81,1058.4 92,1054.8 103,1051.3 114,1047.5 125,1045.9 136,1044.5 147,1042.9 158,1044.9 169,1050.5 180,1057.1 191,1065.8 202,1078.0 213,1090.3 224,1100.3 235,1108.8 246,1115.5 257,1120.0 268,1125.1 279,1130.8 290,1137.5 301,1145.4 312,1151.3 323,1156.0 334,1159.4 345,1161.1 356,1161.9 367,1160.0 378,1156.5 389,1150.0 400,1141.3 411,1129.8 422,1117.4 433,1103.6 444,1087.7 455,1070.3 466,1049.1 477,1025.2 488,1001.2 499,978.6 510,959.2 521,943.0 532,929.0 543,919.1 554,915.1 565,914.9 576,915.6 587,917.3 598,919.8 609,925.4 620,935.9 631,948.5 642,963.0 653,976.4 664,989.3 675,1002.0 686,1015.7 697,1028.5 708,1040.8 719,1052.1 730,1060.9 741,1068.4 752,1074.9 763,1080.2 774,1085.2 785,1088.9 796,1090.1 807,1093.3 818,1096.7 829,1101.3 840,1105.0 851,1109.7 862,1114.3 873,1121.5 884,1127.5 895,1134.2 906,1140.6 917,1145.7 928,1149.7 939,1154.1 950,1160.5 961,1163.3 972,1161.5 983,1158.6 995,1158.0 1006,1158.4 1017,1158.8 1028,1159.3 1039,1159.1 1050,1158.1 1061,1156.7 1072,1153.5 1083,1148.8 1094,1142.7 1105,1136.6 1116,1129.2 1127,1121.2 1138,1112.9 1149,1106.7 1160,1099.6 1171,1091.3 1182,1083.3 1193,1077.3 1204,1072.3 1215,1069.7 1226,1068.2 1237,1068.0 1248,1069.6 1259,1071.4 1270,1073.0 1281,1075.8 1292,1079.7 1303,1085.3 1314,1092.5 1325,1102.7 1336,1115.8 1347,1129.0 1358,1141.2 1369,1151.5 1380,1161.6 1391,1170.2 1402,1177.2 1413,1183.3 1424,1188.7 1435,1192.6 1446,1195.4 1457,1197.9 1468,1200.4 1479,1201.2 1490,1201.2 1501,1201.1 1512,1200.3 1523,1199.1 1534,1197.4 1545,1193.9 1556,1189.8 1567,1186.8 1578,1183.4 1589,1179.2 1600,1174.5 1611,1169.8 1622,1165.5 1633,1160.9 1644,1154.4 1655,1148.3 1666,1141.5 1677,1134.1 1688,1127.2 1699,1121.2 1710,1116.3 1721,1111.6 1732,1105.3 1743,1097.1 1754,1086.8 1765,1076.0 1776,1071.4 1787,1072.4 1798,1080.6 1809,1093.6 1820,1108.4 1831,1120.5 1842,1127.2 1853,1133.9 1864,1141.2 1875,1150.1 1886,1160.3" fill="none" stroke="#ff6a00" stroke-width="2" stroke-linejoin="round" clip-path="url(#cp)"/>
<text x="2173.70" y="60.10" font-size="23.8" fill="#131722" font-weight="normal" textLength="93.04" lengthAdjust="spacingAndGlyphs">2,760.00</text>
<text x="2173.70" y="125.10" font-size="23.8" fill="#131722" font-weight="normal" textLength="93.04" lengthAdjust="spacingAndGlyphs">2,720.00</text>
<text x="2173.70" y="190.10" font-size="23.8" fill="#131722" font-weight="normal" textLength="93.04" lengthAdjust="spacingAndGlyphs">2,680.00</text>
<text x="2173.70" y="255.10" font-size="23.8" fill="#131722" font-weight="normal" textLength="93.04" lengthAdjust="spacingAndGlyphs">2,640.00</text>
<text x="2173.70" y="320.10" font-size="23.8" fill="#131722" font-weight="normal" textLength="93.04" lengthAdjust="spacingAndGlyphs">2,600.00</text>
<text x="2173.70" y="385.10" font-size="23.8" fill="#131722" font-weight="normal" textLength="93.04" lengthAdjust="spacingAndGlyphs">2,560.00</text>
<text x="2173.70" y="450.10" font-size="23.8" fill="#131722" font-weight="normal" textLength="93.04" lengthAdjust="spacingAndGlyphs">2,520.00</text>
<text x="2173.70" y="515.10" font-size="23.8" fill="#131722" font-weight="normal" textLength="93.04" lengthAdjust="spacingAndGlyphs">2,480.00</text>
<text x="2173.70" y="580.10" font-size="23.8" fill="#131722" font-weight="normal" textLength="93.04" lengthAdjust="spacingAndGlyphs">2,440.00</text>
<text x="2173.70" y="645.10" font-size="23.8" fill="#131722" font-weight="normal" textLength="93.04" lengthAdjust="spacingAndGlyphs">2,400.00</text>
<text x="2173.70" y="710.10" font-size="23.8" fill="#131722" font-weight="normal" textLength="93.04" lengthAdjust="spacingAndGlyphs">2,360.00</text>
<text x="2173.70" y="775.10" font-size="23.8" fill="#131722" font-weight="normal" textLength="93.04" lengthAdjust="spacingAndGlyphs">2,320.00</text>
<text x="2173.20" y="862.30" font-size="23.8" fill="#131722" font-weight="normal" textLength="59.53" lengthAdjust="spacingAndGlyphs">60.00</text>
<text x="2174.20" y="945.30" font-size="23.8" fill="#131722" font-weight="normal" textLength="58.53" lengthAdjust="spacingAndGlyphs">40.00</text>
<text x="2173.20" y="1028.30" font-size="23.8" fill="#131722" font-weight="normal" textLength="59.53" lengthAdjust="spacingAndGlyphs">20.00</text>
<rect x="2054" y="637" width="102" height="34" rx="3" fill="#f23645"/>
<rect x="2158" y="637" width="120" height="34" rx="3" fill="#f23645"/>
<rect x="2158" y="1085" width="86" height="33.5" rx="3" fill="#800080"/>
<rect x="2158" y="1126.3" width="86" height="33.5" rx="3" fill="#ef5350"/>
<rect x="2158" y="1159.8" width="98" height="33.9" rx="3" fill="#ff6a00"/>
<rect x="2158" y="1193.7" width="98" height="33.6" rx="3" fill="#0094ff"/>
<path d="M1904.64 798.94A19.6 19.6 0 1 1 1892.06 786.36" fill="none" stroke="#9c27b0" stroke-width="3"/>
<path d="M1890.84 793.99L1892.37 795.93L1885.99 803.84L1895.02 804.10L1881.04 816.04L1878.84 814.67L1885.99 806.09L1876.95 805.83Z" fill="#9c27b0"/>
<circle cx="1899.8" cy="791" r="5.1" fill="#f23645"/>
<path d="M20 1325H35.7V1344.1H27.8V1332.7H20Z" fill="#131313"/>
<circle cx="42.4" cy="1329.5" r="4.3" fill="#131313"/>
<path d="M49.6 1325H59.1L51.5 1344.1H42.4Z" fill="#131313"/>
<text x="35.43" y="43.80" font-size="24.3" fill="#131722" font-weight="normal" textLength="103.90" lengthAdjust="spacingAndGlyphs">Ethereum</text>
<text x="150.57" y="43.80" font-size="24.3" fill="#131722" font-weight="normal" textLength="7.97" lengthAdjust="spacingAndGlyphs">/</text>
<text x="167.39" y="43.80" font-size="24.3" fill="#131722" font-weight="normal" textLength="43.22" lengthAdjust="spacingAndGlyphs">U.S.</text>
<text x="217.78" y="43.80" font-size="24.3" fill="#131722" font-weight="normal" textLength="64.22" lengthAdjust="spacingAndGlyphs">Dollar</text>
<text x="290.05" y="43.80" font-size="24.3" fill="#131722" font-weight="normal" textLength="8.70" lengthAdjust="spacingAndGlyphs">·</text>
<text x="306.36" y="43.80" font-size="24.3" fill="#131722" font-weight="normal" textLength="25.47" lengthAdjust="spacingAndGlyphs">1h</text>
<text x="339.05" y="43.80" font-size="24.3" fill="#131722" font-weight="normal" textLength="8.70" lengthAdjust="spacingAndGlyphs">·</text>
<text x="355.44" y="43.80" font-size="24.3" fill="#131722" font-weight="normal" textLength="74.06" lengthAdjust="spacingAndGlyphs">GEMINI</text>
<text x="444.13" y="43.80" font-size="24.3" fill="#131722" font-weight="normal" textLength="16.45" lengthAdjust="spacingAndGlyphs">O</text>
<text x="459.92" y="43.80" font-size="24.3" fill="#f23645" font-weight="normal" textLength="92.89" lengthAdjust="spacingAndGlyphs">2,401.33</text>
<text x="567.57" y="43.80" font-size="24.3" fill="#131722" font-weight="normal" textLength="16.04" lengthAdjust="spacingAndGlyphs">H</text>
<text x="582.81" y="43.80" font-size="24.3" fill="#f23645" font-weight="normal" textLength="93.50" lengthAdjust="spacingAndGlyphs">2,404.67</text>
<text x="690.81" y="43.80" font-size="24.3" fill="#131722" font-weight="normal" textLength="12.78" lengthAdjust="spacingAndGlyphs">L</text>
<text x="703.72" y="43.80" font-size="24.3" fill="#f23645" font-weight="normal" textLength="92.99" lengthAdjust="spacingAndGlyphs">2,380.00</text>
<text x="811.08" y="43.80" font-size="24.3" fill="#131722" font-weight="normal" textLength="13.69" lengthAdjust="spacingAndGlyphs">C</text>
<text x="825.32" y="43.80" font-size="24.3" fill="#f23645" font-weight="normal" textLength="92.38" lengthAdjust="spacingAndGlyphs">2,389.75</text>
<text x="933.43" y="43.80" font-size="24.3" fill="#f23645" font-weight="normal" textLength="70.66" lengthAdjust="spacingAndGlyphs">−11.99</text>
<text x="1013.70" y="43.80" font-size="24.3" fill="#f23645" font-weight="normal" textLength="88.87" lengthAdjust="spacingAndGlyphs">(−0.50%)</text>
<text x="36.12" y="77.60" font-size="24.3" fill="#131722" font-weight="normal" textLength="26.33" lengthAdjust="spacingAndGlyphs">SR</text>
<text x="68.45" y="77.60" font-size="24.3" fill="#131722" font-weight="normal" textLength="69.78" lengthAdjust="spacingAndGlyphs">Breaks</text>
<text x="146.75" y="77.60" font-size="24.3" fill="#131722" font-weight="normal" textLength="38.59" lengthAdjust="spacingAndGlyphs">and</text>
<text x="192.32" y="77.60" font-size="24.3" fill="#131722" font-weight="normal" textLength="77.42" lengthAdjust="spacingAndGlyphs">Retests</text>
<text x="278.61" y="77.60" font-size="24.3" fill="#131722" font-weight="normal" textLength="135.44" lengthAdjust="spacingAndGlyphs">[ChartPrime]</text>
<text x="424.53" y="77.60" font-size="24.3" fill="#131722" font-weight="normal" textLength="40.56" lengthAdjust="spacingAndGlyphs">(20,</text>
<text x="471.93" y="77.60" font-size="24.3" fill="#131722" font-weight="normal" textLength="21.75" lengthAdjust="spacingAndGlyphs">2,</text>
<text x="502.58" y="77.60" font-size="24.3" fill="#131722" font-weight="normal" textLength="19.82" lengthAdjust="spacingAndGlyphs">1)</text>
<text x="539.16" y="77.60" font-size="24.3" fill="#e8222e" font-weight="normal" textLength="44.32" lengthAdjust="spacingAndGlyphs">1.00</text>
<text x="599.10" y="77.60" font-size="24.3" fill="#20c020" font-weight="normal" textLength="45.49" lengthAdjust="spacingAndGlyphs">0.00</text>
<text x="659.90" y="77.60" font-size="24.3" fill="#20c020" font-weight="normal" textLength="45.70" lengthAdjust="spacingAndGlyphs">0.00</text>
<text x="721.00" y="77.60" font-size="24.3" fill="#e8222e" font-weight="normal" textLength="45.49" lengthAdjust="spacingAndGlyphs">0.00</text>
<text x="34.62" y="870.80" font-size="24.3" fill="#131722" font-weight="normal" textLength="105.84" lengthAdjust="spacingAndGlyphs">MACD+RSI</text>
<text x="149.41" y="870.80" font-size="24.3" fill="#131722" font-weight="normal" textLength="71.03" lengthAdjust="spacingAndGlyphs">(close,</text>
<text x="228.37" y="870.80" font-size="24.3" fill="#131722" font-weight="normal" textLength="31.35" lengthAdjust="spacingAndGlyphs">12,</text>
<text x="267.67" y="870.80" font-size="24.3" fill="#131722" font-weight="normal" textLength="34.73" lengthAdjust="spacingAndGlyphs">26,</text>
<text x="309.53" y="870.80" font-size="24.3" fill="#131722" font-weight="normal" textLength="21.75" lengthAdjust="spacingAndGlyphs">9,</text>
<text x="339.96" y="870.80" font-size="24.3" fill="#131722" font-weight="normal" textLength="32.86" lengthAdjust="spacingAndGlyphs">14)</text>
<text x="387.55" y="870.80" font-size="24.3" fill="#ef5350" font-weight="normal" textLength="58.44" lengthAdjust="spacingAndGlyphs">−9.79</text>
<text x="461.24" y="870.80" font-size="24.3" fill="#0094ff" font-weight="normal" textLength="71.85" lengthAdjust="spacingAndGlyphs">−23.69</text>
<text x="547.44" y="870.80" font-size="24.3" fill="#ff6a00" font-weight="normal" textLength="72.05" lengthAdjust="spacingAndGlyphs">−13.90</text>
<text x="633.85" y="870.80" font-size="24.3" fill="#800080" font-weight="normal" textLength="58.44" lengthAdjust="spacingAndGlyphs">−0.06</text>
<text x="201.12" y="1281.80" font-size="23.8" fill="#131722" font-weight="normal" textLength="23.18" lengthAdjust="spacingAndGlyphs">13</text>
<text x="464.35" y="1281.80" font-size="23.8" fill="#131722" font-weight="normal" textLength="25.07" lengthAdjust="spacingAndGlyphs">14</text>
<text x="729.92" y="1281.80" font-size="23.8" fill="#131722" font-weight="normal" textLength="23.18" lengthAdjust="spacingAndGlyphs">15</text>
<text x="994.11" y="1281.80" font-size="23.8" fill="#131722" font-weight="normal" textLength="23.60" lengthAdjust="spacingAndGlyphs">16</text>
<text x="1258.19" y="1281.80" font-size="23.8" fill="#131722" font-weight="normal" textLength="24.02" lengthAdjust="spacingAndGlyphs">17</text>
<text x="1522.51" y="1281.80" font-size="23.8" fill="#131722" font-weight="normal" textLength="23.60" lengthAdjust="spacingAndGlyphs">18</text>
<text x="1785.73" y="1281.80" font-size="23.8" fill="#131722" font-weight="bold" textLength="25.80" lengthAdjust="spacingAndGlyphs">19</text>
<text x="2049.44" y="1281.80" font-size="23.8" fill="#131722" font-weight="normal" textLength="25.49" lengthAdjust="spacingAndGlyphs">20</text>
<text x="66.05" y="1344.50" font-size="26" fill="#131313" font-weight="normal" textLength="140.13" lengthAdjust="spacingAndGlyphs">TradingView</text>
<text x="2063.95" y="662.60" font-size="23.8" fill="#fff" font-weight="normal" textLength="83.01" lengthAdjust="spacingAndGlyphs">ETHUSD</text>
<text x="2173.09" y="662.30" font-size="23.8" fill="#fff" font-weight="normal" textLength="93.14" lengthAdjust="spacingAndGlyphs">2,389.75</text>
<text x="2173.62" y="1110.60" font-size="23.8" fill="#fff" font-weight="normal" textLength="59.11" lengthAdjust="spacingAndGlyphs">−0.06</text>
<text x="2173.62" y="1151.80" font-size="23.8" fill="#fff" font-weight="normal" textLength="59.11" lengthAdjust="spacingAndGlyphs">−9.79</text>
<text x="2173.62" y="1185.30" font-size="23.8" fill="#fff" font-weight="normal" textLength="71.91" lengthAdjust="spacingAndGlyphs">−13.90</text>
<text x="2173.62" y="1219.30" font-size="23.8" fill="#fff" font-weight="normal" textLength="71.91" lengthAdjust="spacingAndGlyphs">−23.69</text>
</svg>
</body></html>
